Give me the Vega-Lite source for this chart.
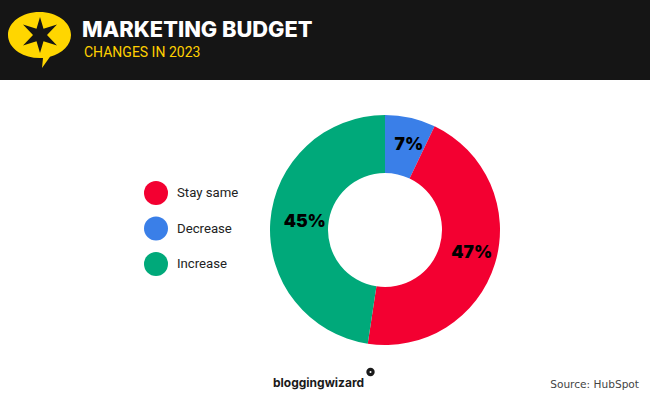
{"$schema":"https://vega.github.io/schema/vega-lite/v6.json","width":530,"height":300,"autosize":"none","padding":{"left":120,"top":80,"right":0,"bottom":20},"background":"#ffffff","config":{"view":{"stroke":null}},
"layer":[
{"data":{"values":[{"band":"header"}]},"mark":{"type":"rect","fill":"#151515"},"encoding":{"x":{"value":-120},"x2":{"value":530},"y":{"value":-80},"y2":{"value":0}}},
{"data":{"values":[{"part":"bubble"}]},"mark":{"type":"point","filled":true,"opacity":1,"fill":"#FFD600","size":4,"shape":"M-31.5 0 A31.5 23 0 0 1 31.5 0 A31.5 23 0 0 1 10.5 21.7 L2.5 33 L3.5 22.9 A31.5 23 0 0 1 -31.5 0 Z"},"encoding":{"x":{"value":-80.5},"y":{"value":-45}}},
{"data":{"values":[{"part":"star"}]},"mark":{"type":"point","filled":true,"opacity":1,"fill":"#151515","size":4,"shape":"M0 -18 L3.5 -6.2 L17 -10.5 L7 0 L17 10.5 L3.5 6.2 L0 18 L-3.5 6.2 L-17 10.5 L-7 0 L-17 -10.5 L-3.5 -6.2 Z"},"encoding":{"x":{"value":-80},"y":{"value":-45}}},
{"data":{"values":[{"t":"MARKETING BUDGET"}]},"mark":{"type":"text","font":"Inter","fontWeight":800,"fontSize":21.8,"fill":"#ffffff","align":"left","baseline":"alphabetic"},"encoding":{"x":{"value":-38},"y":{"value":-43},"text":{"field":"t"}}},
{"data":{"values":[{"t":"CHANGES IN 2023"}]},"mark":{"type":"text","font":"Roboto","fontSize":14,"fill":"#FFD000","align":"left","baseline":"alphabetic"},"encoding":{"x":{"value":-36},"y":{"value":-23},"text":{"field":"t"}}},
{"data":{"name":"shares","values":[{"category":"Decrease","share":7.1,"label":"7%","rank":1},{"category":"Stay same","share":45.3,"label":"47%","rank":2},{"category":"Increase","share":47.6,"label":"45%","rank":3}]},"mark":{"type":"arc","radius":115,"radius2":57},"encoding":{"theta":{"field":"share","type":"quantitative","stack":true,"scale":{"domain":[0,100]}},"order":{"field":"rank","type":"ordinal"},"color":{"field":"category","type":"nominal","scale":{"domain":["Stay same","Decrease","Increase"],"range":["#F30031","#3A7FE8","#00A97A"]},"legend":{"title":null,"orient":"none","legendX":24,"legendY":101,"symbolType":"circle","symbolSize":576,"symbolStrokeWidth":0,"rowPadding":11.5,"labelOffset":9,"labelFont":"Roboto","labelFontSize":13.2,"labelColor":"#222222","symbolOpacity":1}}}},
{"data":{"name":"shares"},"mark":{"type":"text","radius":85.5,"dx":5,"dy":-2,"font":"Inter","fontWeight":900,"fontSize":17.5,"fill":"#000000"},"encoding":{"theta":{"field":"share","type":"quantitative","stack":true,"scale":{"domain":[0,100]}},"order":{"field":"rank","type":"ordinal"},"detail":{"field":"category"},"text":{"field":"label"}}},
{"data":{"values":[{"t":"bloggingwizard"}]},"mark":{"type":"text","font":"Inter","fontWeight":700,"fontSize":12,"fill":"#1a1a1a","align":"left","baseline":"alphabetic"},"encoding":{"x":{"value":153},"y":{"value":307},"text":{"field":"t"}}},
{"data":{"values":[{"part":"dot"}]},"mark":{"type":"point","filled":true,"opacity":1,"fill":"#1a1a1a","size":70},"encoding":{"x":{"value":250.5},"y":{"value":292}}},
{"data":{"values":[{"part":"dot"}]},"mark":{"type":"point","filled":true,"opacity":1,"fill":"#ffffff","size":4},"encoding":{"x":{"value":250.5},"y":{"value":292}}},
{"data":{"values":[{"t":"Source: HubSpot"}]},"mark":{"type":"text","font":"DejaVu Sans","fontSize":10.6,"fill":"#444444","align":"right","baseline":"alphabetic"},"encoding":{"x":{"value":519},"y":{"value":308},"text":{"field":"t"}}}
]}
